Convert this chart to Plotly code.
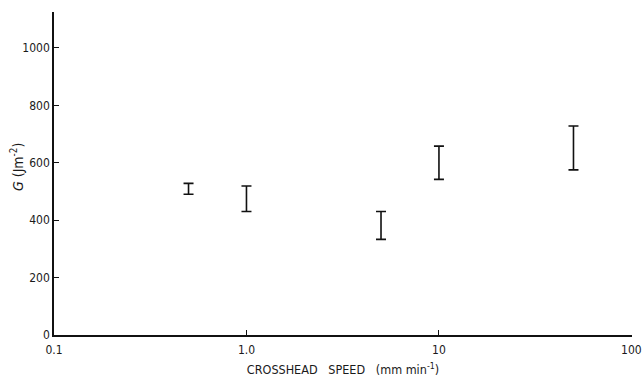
import plotly.graph_objects as go

speed = [0.5, 1.0, 5.0, 10.0, 50.0]
g_low = [490, 430, 333, 542, 575]
g_high = [528, 519, 430, 658, 728]

x_tickvals = [0.1, 1.0, 10, 100]
x_ticktext = ["0.1", "1.0", "10", "100"]
y_tickvals = [0, 200, 400, 600, 800, 1000]

mid = [(a + b) / 2 for a, b in zip(g_low, g_high)]
half = [(b - a) / 2 for a, b in zip(g_low, g_high)]

font_fam = "DejaVu Sans Condensed, Liberation Sans Narrow, Arial Narrow, sans-serif"

fig = go.Figure()
fig.add_trace(go.Scatter(
    x=speed, y=mid, mode="markers",
    marker=dict(size=1, color="rgba(0,0,0,0)"),
    error_y=dict(type="data", array=half, visible=True, color="#111",
                 thickness=1.6, width=5),
    showlegend=False, hoverinfo="skip",
))

fig.add_annotation(
    text="<i>G</i> (Jm<sup>-2</sup>)", textangle=-90,
    xref="paper", yref="paper", x=-0.064, y=0.52,
    xanchor="center", yanchor="middle", showarrow=False,
    font=dict(size=14, color="#1a1a1a"),
)

fig.update_layout(
    width=644, height=381,
    margin=dict(l=54, r=12, t=12, b=46, autoexpand=False),
    paper_bgcolor="white", plot_bgcolor="white",
    font=dict(family=font_fam, size=12, color="#1a1a1a"),
    xaxis=dict(
        type="log", range=[-1, 2.003], automargin=False,
        tickvals=x_tickvals, ticktext=x_ticktext,
        ticks="inside", ticklen=5, tickwidth=1.3, tickcolor="#111",
        ticklabelstandoff=3,
        showline=True, linecolor="#111", linewidth=1.6,
        showgrid=False, zeroline=False,
        title=dict(text="CROSSHEAD   SPEED   (mm min<sup>-1</sup>)",
                   font=dict(size=12.5, color="#1a1a1a"), standoff=9),
    ),
    yaxis=dict(
        range=[0, 1125], automargin=False,
        tickvals=y_tickvals,
        ticks="inside", ticklen=5, tickwidth=1.3, tickcolor="#111",
        showline=True, linecolor="#111", linewidth=1.6,
        showgrid=False, zeroline=False,
    ),
)

fig.write_html("out.html")
